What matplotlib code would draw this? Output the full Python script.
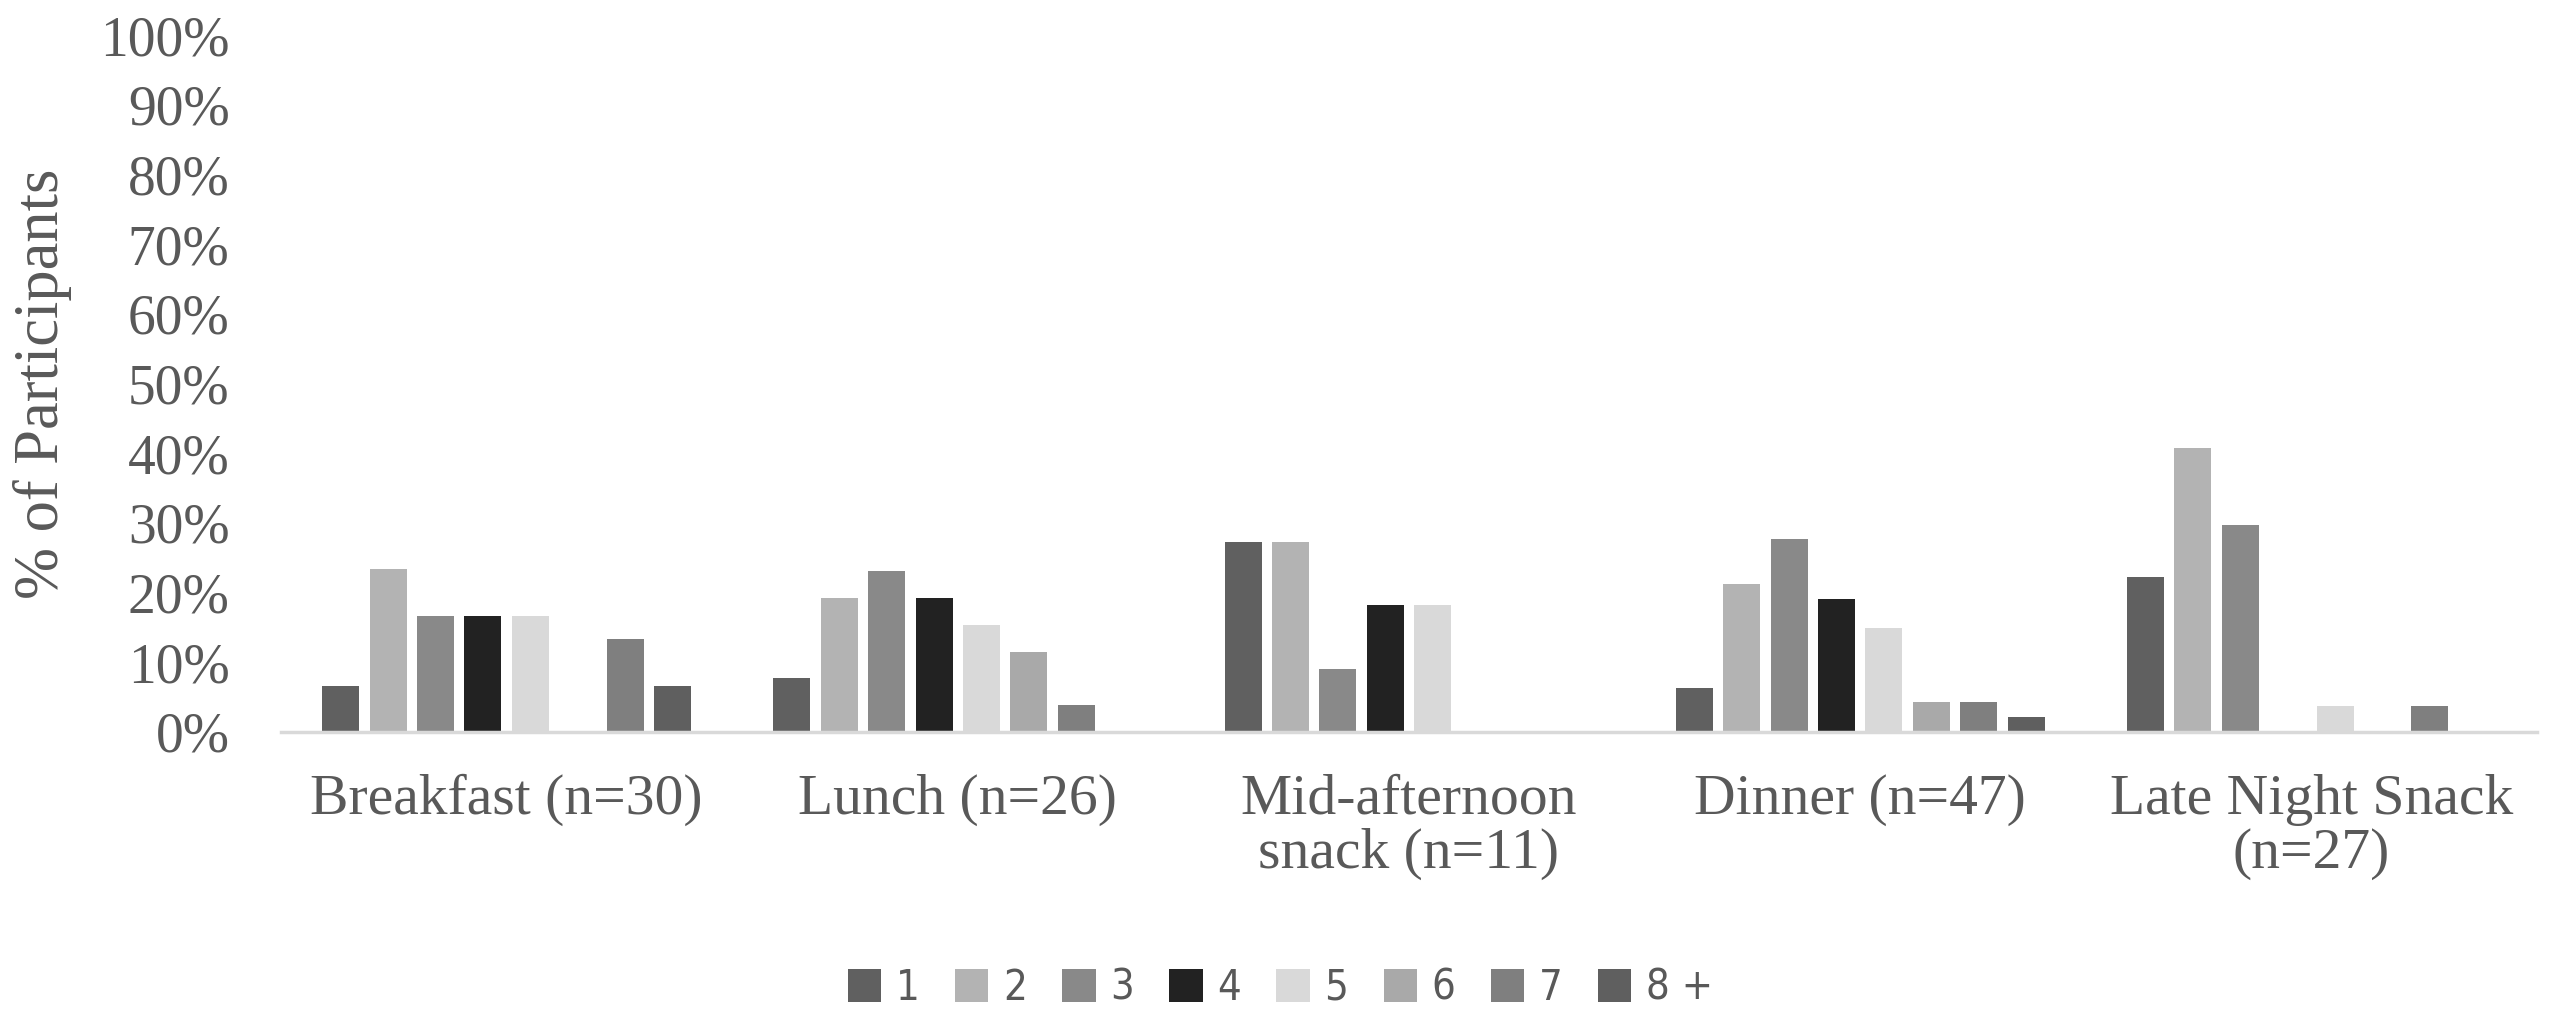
import numpy as np
from matplotlib import pyplot as plt
from matplotlib import font_manager
from matplotlib.ticker import PercentFormatter

# meal occasions and share of participants per number of items
categories = ['Breakfast (n=30)', 'Lunch (n=26)', 'Mid-afternoon\nsnack (n=11)',
              'Dinner (n=47)', 'Late Night Snack\n(n=27)']
series_labels = ['1', '2', '3', '4', '5', '6', '7', '8 +']
counts_n = [30, 26, 11, 47, 27]
counts = [
    [2, 2, 3, 3, 6],     # 1
    [7, 5, 3, 10, 11],   # 2
    [5, 6, 1, 13, 8],    # 3
    [5, 5, 2, 9, 0],     # 4
    [5, 4, 2, 7, 1],     # 5
    [0, 3, 0, 2, 0],     # 6
    [4, 1, 0, 2, 1],     # 7
    [2, 0, 0, 1, 0],     # 8 +
]
colors = ['#606060', '#b3b3b3', '#898989', '#222222',
          '#d9d9d9', '#a9a9a9', '#7f7f7f', '#5f5f5f']

text_color = '#595959'
serif = ['Liberation Serif', 'DejaVu Serif']

# legend uses a narrow sans face if one is around
legend_prop = font_manager.FontProperties(family='DejaVu Sans', stretch='condensed', size=30)

fig = plt.figure(figsize=(25.61, 10.26), dpi=100)
ax = fig.add_axes([281 / 2561, 1 - 732 / 1026, 2256 / 2561, 697 / 1026])

x = np.arange(len(categories))
pitch = 0.105
width = 0.082
for i, (label, row) in enumerate(zip(series_labels, counts)):
    pct = [100 * c / n for c, n in zip(row, counts_n)]
    ax.bar(x + (i - 3.5) * pitch, pct, width, color=colors[i], label=label)

ax.set_xlim(-0.5, len(categories) - 0.5)
ax.set_ylim(0, 100)
ax.set_yticks(np.arange(0, 101, 10))
ax.yaxis.set_major_formatter(PercentFormatter(decimals=0))
ax.set_xticks(x)
ax.set_xticklabels(categories, family=serif, fontsize=41.5, color=text_color,
                   linespacing=1.05)
for lab in ax.get_yticklabels():
    lab.set_family(serif)
    lab.set_fontsize(40)
    lab.set_color(text_color)
ax.tick_params(axis='y', length=0, pad=37)
ax.tick_params(axis='x', length=0, pad=30)

for side in ['top', 'right', 'left']:
    ax.spines[side].set_visible(False)
ax.spines['bottom'].set_color('#d9d9d9')
ax.spines['bottom'].set_linewidth(2.5)

ax.set_ylabel('% of Participants', family=serif, fontsize=45, color=text_color,
              labelpad=20)

fig.legend(loc='center', bbox_to_anchor=(0.5, 1 - 988 / 1026), ncol=8,
           frameon=False, prop=legend_prop,
           labelcolor=text_color, handlelength=0.8, handleheight=0.85,
           handletextpad=0.35, columnspacing=0.85)

fig.savefig('out.png', dpi=100)
